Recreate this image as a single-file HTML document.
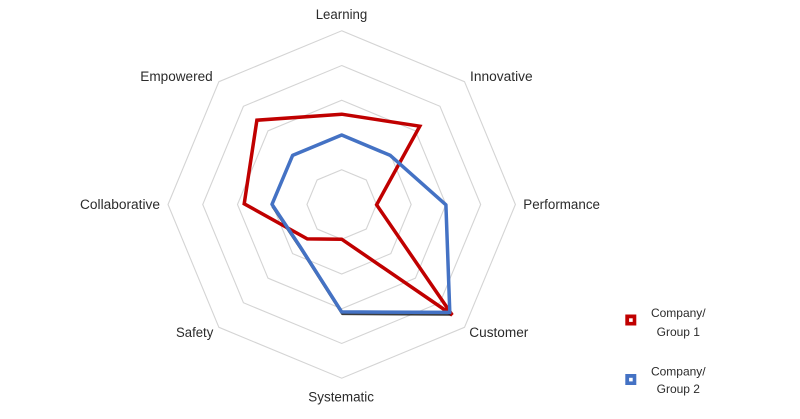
<!DOCTYPE html>
<html>
<head>
<meta charset="utf-8">
<style>
  html,body{margin:0;padding:0;background:#fff;}
  svg{display:block;}
  text{font-family:"Liberation Sans",Arial,sans-serif;fill:#2b2b2b;}
</style>
</head>
<body>
<svg width="800" height="419" viewBox="0 0 800 419" xmlns="http://www.w3.org/2000/svg">
  <rect width="800" height="419" fill="#fff"/>
  <g fill="none" stroke="#d4d4d4" stroke-width="1.1">
    <polygon points="341.7,169.76 366.26,179.94 376.44,204.5 366.26,229.06 341.7,239.24 317.14,229.06 306.96,204.5 317.14,179.94"/>
    <polygon points="341.7,135.02 390.83,155.37 411.18,204.5 390.83,253.63 341.7,273.98 292.57,253.63 272.22,204.5 292.57,155.37"/>
    <polygon points="341.7,100.28 415.39,130.81 445.92,204.5 415.39,278.19 341.7,308.72 268.01,278.19 237.48,204.5 268.01,130.81"/>
    <polygon points="341.7,65.54 439.96,106.24 480.66,204.5 439.96,302.76 341.7,343.46 243.44,302.76 202.74,204.5 243.44,106.24"/>
    <polygon points="341.7,30.8 464.52,81.68 515.4,204.5 464.52,327.32 341.7,378.2 218.88,327.32 168,204.5 218.88,81.68"/>
  </g>

  <!-- Group 1 (red) -->
  <polygon fill="none" stroke="#c00000" stroke-width="3.5" stroke-linejoin="miter" stroke-miterlimit="4"
    points="341.7,114.2 419.8,126.2 376.6,204.8 452.2,315.0 341.7,239.2 307.3,238.9 244.2,203.8 256.9,120.2"/>

  <!-- shadow under blue -->
  <polyline fill="none" stroke="#1a1a1a" stroke-width="3" stroke-linejoin="round" opacity="0.85"
    points="272.6,206 300.6,248 342.4,313.6 450.5,314.2"/>
  <!-- Group 2 (blue) -->
  <polygon fill="none" stroke="#4472c4" stroke-width="3.5" stroke-linejoin="round"
    points="341.7,135.0 390.3,155.4 445.9,204.8 449.8,312.4 341.7,311.9 299.9,246.3 272.0,204.3 292.6,155.4"/>

  <!-- axis labels -->
  <g font-size="13.5">
    <text x="315.7" y="18.8" textLength="51.6" lengthAdjust="spacingAndGlyphs">Learning</text>
    <text x="470" y="81.2" textLength="62.7" lengthAdjust="spacingAndGlyphs">Innovative</text>
    <text x="523.3" y="208.8" textLength="76.7" lengthAdjust="spacingAndGlyphs">Performance</text>
    <text x="469.3" y="337" textLength="59" lengthAdjust="spacingAndGlyphs">Customer</text>
    <text x="308.3" y="401.3" textLength="65.7" lengthAdjust="spacingAndGlyphs">Systematic</text>
    <text x="176" y="337" textLength="37.3" lengthAdjust="spacingAndGlyphs">Safety</text>
    <text x="80" y="208.8" textLength="80" lengthAdjust="spacingAndGlyphs">Collaborative</text>
    <text x="140.3" y="80.8" textLength="72.4" lengthAdjust="spacingAndGlyphs">Empowered</text>
  </g>

  <!-- legend -->
  <rect x="625.3" y="314.5" width="11" height="11" fill="#c00000"/>
  <rect x="629.1" y="318.3" width="3.6" height="3.6" fill="#fff"/>
  <rect x="625.3" y="374" width="11" height="11" fill="#4472c4"/>
  <rect x="629.1" y="377.8" width="3.6" height="3.6" fill="#fff"/>
  <g font-size="12" text-anchor="middle">
    <text x="678.3" y="316.8">Company/</text>
    <text x="678.3" y="336">Group 1</text>
    <text x="678.3" y="375.5">Company/</text>
    <text x="678.3" y="393">Group 2</text>
  </g>
</svg>
</body>
</html>
